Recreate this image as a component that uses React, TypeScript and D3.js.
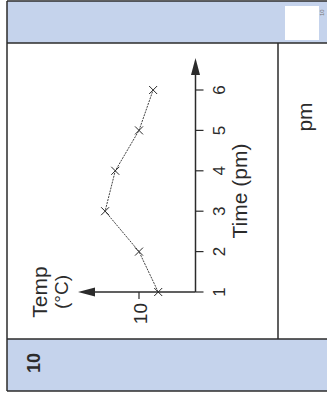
import React from 'react';
import * as d3 from 'd3';

// Table row (drawn rotated) with a small line graph of temperature vs time
const times = [1, 2, 3, 4, 5, 6];
const temps = [6.6, 10, 16, 14.2, 10, 7.5];
const tempTicks = [10];
const rowLabel = '10';
const unitLabel = 'pm';

const W = 327;
const H = 398;
const band = '#c5d3ec';
const ink = '#2b2b2b';
const font = "'Liberation Sans', Arial, sans-serif";

const App = () => {
  // time runs up the page, temperature runs to the left
  const y = d3.scaleLinear().domain([1, 6]).range([292, 90]);
  const x = d3.scaleLinear().domain([0, 10]).range([195.5, 139]);

  const x0 = x(0);
  const y0 = y(1);

  const line = d3.line<number>()
    .x((d, i) => x(temps[i]))
    .y(d => y(d));

  const rot = (px: number, py: number) => `translate(${px},${py}) rotate(-90)`;

  return (
    <div style={{ position: 'absolute', left: 0, top: 0 }}>
      <svg width={W} height={H} style={{ display: 'block', fontFamily: font }}>
        <rect x={0} y={0} width={W} height={H} fill="#fff" />

        {/* header and footer bands */}
        <rect x={7} y={1} width={W} height={42} fill={band} />
        <rect x={7} y={339} width={W} height={52} fill={band} />
        <rect x={285} y={6} width={34} height={34} fill="#fff" />
        <text transform={rot(324, 16)} fontSize={6} fill="#777">10</text>

        {/* grid lines */}
        <g stroke={ink} strokeWidth={1.5} fill="none">
          <line x1={7} y1={1} x2={W} y2={1} />
          <line x1={7} y1={391} x2={W} y2={391} />
          <line x1={7} y1={1} x2={7} y2={391} />
          <line x1={7} y1={43} x2={W} y2={43} />
          <line x1={7} y1={339} x2={W} y2={339} />
          <line x1={278} y1={43} x2={278} y2={339} />
        </g>

        <text transform={rot(39.5, 373)} fontSize={18} fontWeight="bold" fill={ink}>{rowLabel}</text>
        <text transform={rot(312, 117)} fontSize={21} textAnchor="middle" fill={ink}>{unitLabel}</text>

        {/* time axis */}
        <line x1={x0} y1={y0} x2={x0} y2={70} stroke={ink} strokeWidth={1.5} />
        <path d={`M${x0},58 L${x0 - 4.5},75 L${x0 + 4.5},75 Z`} fill={ink} />
        {times.map(t => (
          <g key={t}>
            <line x1={x0} y1={y(t)} x2={x0 + 8} y2={y(t)} stroke={ink} strokeWidth={1.2} />
            <text transform={rot(224.5, y(t))} fontSize={17} textAnchor="middle" fill={ink}>{t}</text>
          </g>
        ))}
        <text transform={rot(247, (y(1) + y(6)) / 2)} fontSize={21} textAnchor="middle" fill={ink}>Time (pm)</text>

        {/* temperature axis */}
        <line x1={x0} y1={y0} x2={90} y2={y0} stroke={ink} strokeWidth={1.5} />
        <path d={`M78,${y0} L95,${y0 - 4.5} L95,${y0 + 4.5} Z`} fill={ink} />
        {tempTicks.map(t => (
          <g key={t}>
            <line x1={x(t)} y1={y0} x2={x(t)} y2={y0 + 7} stroke={ink} strokeWidth={1.2} />
            <text transform={rot(147, y0 + 11)} fontSize={19} textAnchor="end" fill={ink}>{t}</text>
          </g>
        ))}
        <text transform={rot(47, y0)} fontSize={21} textAnchor="middle" fill={ink}>Temp</text>
        <text transform={rot(68, y0)} fontSize={19} textAnchor="middle" fill={ink}>(°C)</text>

        {/* data */}
        <path d={line(times) || ''} fill="none" stroke={ink} strokeWidth={0.9} strokeDasharray="2,1" />
        {times.map((t, i) => {
          const cx = x(temps[i]);
          const cy = y(t);
          const s = 4;
          return (
            <path key={t} d={`M${cx - s},${cy - s}L${cx + s},${cy + s}M${cx - s},${cy + s}L${cx + s},${cy - s}`}
              stroke={ink} strokeWidth={1} />
          );
        })}
      </svg>
    </div>
  );
};

export default App;
